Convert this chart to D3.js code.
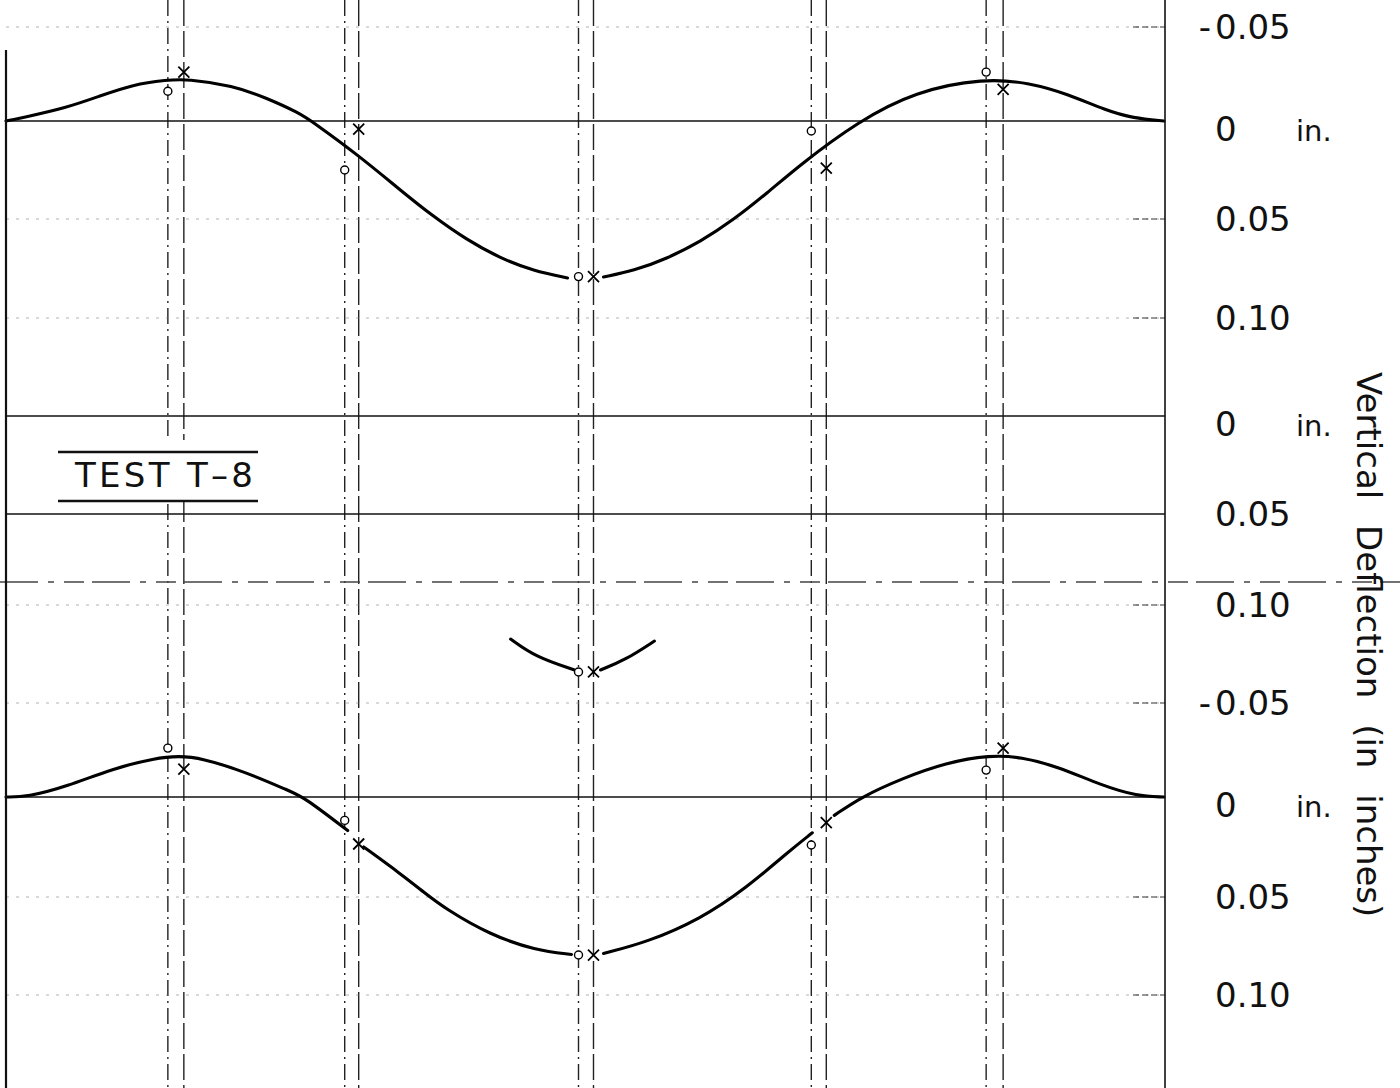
<!DOCTYPE html>
<html>
<head>
<meta charset="utf-8">
<script src="https://cdn.jsdelivr.net/npm/d3@7"></script>
<style>
  body { margin: 0; background: #fff; }
  svg { display: block; }
  text { font-family: "DejaVu Sans", sans-serif; fill: #111; }
</style>
</head>
<body>
<svg id="chart" width="1400" height="1088"></svg>
<script>
// -------------------------------------------------------------
// gauge stations along the span (two readings per station)
const gaugesO = [16.2, 33.9, 57.3, 80.6, 98.1];
const gaugesX = [17.8, 35.3, 58.8, 82.1, 99.8];

// right hand tick labels (in.)
const ticksTop = [-0.05, 0, 0.05, 0.10];
const ticksMid = [0, 0.05, 0.10];
const ticksBot = [-0.05, 0, 0.05, 0.10];

// measured deflections (in., + = downward), one per station
const topO = [-0.0158, 0.0250, 0.0791, 0.0051, -0.0260];
const topX = [-0.0260, 0.0041, 0.0791, 0.0240, -0.0168];
const midO = [null, null, 0.1368, null, null];
const midX = [null, null, 0.1368, null, null];
const botO = [-0.0260, 0.0117, 0.0796, 0.0240, -0.0143];
const botX = [-0.0148, 0.0235, 0.0796, 0.0128, -0.0260];

// faired curves [station, deflection]; null = pen lifted
const topCurve = [
  [0, 0], [1.4, -0.0015], [6.1, -0.0071], [9.4, -0.0133], [12.7, -0.0194],
  [16.1, -0.0218], [18.1, -0.0224], [22.7, -0.0188], [26.1, -0.0122],
  [29.4, -0.0041], [30.7, 0.0005], [35.4, 0.0180], [39.4, 0.0350],
  [42.7, 0.0485], [46.1, 0.0605], [49.5, 0.0699], [52.8, 0.0762],
  [56.2, 0.0798], [58, null], [59.8, 0.0793], [62.8, 0.0762], [66.2, 0.0699],
  [69.5, 0.0615], [72.8, 0.0505], [76.2, 0.0367], [79.5, 0.0222],
  [85.2, 0.0005], [91.0, -0.0158], [97.9, -0.0228], [102.5, -0.0203],
  [106.3, -0.0143], [110.1, -0.0056], [112.8, -0.0015], [115.9, 0]
];
const midCurve = [
  [50.5, 0.1187], [53.0, 0.1286], [56.9, 0.1357], [58, null],
  [59.5, 0.1357], [62.0, 0.1302], [64.9, 0.1198]
];
const botCurve = [
  [0, 0], [2.1, 0], [6.1, -0.0056], [10.6, -0.0150], [15.0, -0.0208],
  [17.3, -0.0218], [19.5, -0.0208], [24.0, -0.0133], [28.4, -0.0031],
  [29.8, 0], [34.2, 0.0168], [35, null], [35.8, 0.0250], [39.6, 0.0388],
  [41.8, 0.0475], [44.0, 0.0561], [48.5, 0.0694], [53.0, 0.0772],
  [56.6, 0.0793], [58, null], [59.8, 0.0788], [64.2, 0.0730], [69.5, 0.0612],
  [74.0, 0.0459], [78.4, 0.0270], [80.7, 0.0179], [81.8, null],
  [82.9, 0.0092], [85.6, 0], [89.6, -0.0097], [94.1, -0.0183],
  [98.5, -0.0223], [101.6, -0.0213], [105.2, -0.0163], [109.7, -0.0061],
  [113.2, -0.0005], [115.9, 0]
];

// -------------------------------------------------------------
const width = 1400;
const height = 1088;
const left = 6, right = 1165;

const svg = d3.select('#chart');
const x = d3.scaleLinear().domain([0, 116]).range([left, right]);

const panels = [
  { ticks: ticksTop, range: [27, 121, 219, 318], solid: [0],       curve: topCurve, o: topO, x: topX },
  { ticks: ticksMid, range: [416, 514, 605],     solid: [0, 0.05], curve: midCurve, o: midO, x: midX },
  { ticks: ticksBot, range: [703, 797, 897, 995], solid: [0],      curve: botCurve, o: botO, x: botX }
];

drawStations();
drawSeparator();
panels.forEach(drawPanel);
drawFrame();
drawTitle();

// -------------------------------------------------------------
function drawStations() {
  const g = svg.append('g');
  g.selectAll('.gO').data(gaugesO).enter().append('line')
    .attr('x1', d => x(d)).attr('x2', d => x(d))
    .attr('y1', 0).attr('y2', height)
    .style('stroke', '#222').style('stroke-width', 1.4)
    .style('stroke-dasharray', '16 5 2 5');
  g.selectAll('.gX').data(gaugesX).enter().append('line')
    .attr('x1', d => x(d)).attr('x2', d => x(d))
    .attr('y1', 0).attr('y2', height)
    .style('stroke', '#222').style('stroke-width', 1.4)
    .style('stroke-dasharray', '26 5');
}

// -------------------------------------------------------------
function drawSeparator() {
  svg.append('line')
    .attr('x1', 0).attr('x2', width).attr('y1', 582).attr('y2', 582)
    .style('stroke', '#444').style('stroke-width', 1.5)
    .style('stroke-dasharray', '38 10 6 10 20 8');
}

// -------------------------------------------------------------
function drawPanel(p) {
  const y = d3.scaleLinear().domain(p.ticks).range(p.range);
  const g = svg.append('g');

  // faint construction lines at the other tick levels
  const grid = p.ticks.filter(t => !p.solid.includes(t));
  g.selectAll('.grid').data(grid).enter()
    .append('line')
    .attr('x1', left).attr('x2', right)
    .attr('y1', d => y(d)).attr('y2', d => y(d))
    .style('stroke', '#777').style('stroke-width', 1)
    .style('opacity', 0.55)
    .style('stroke-dasharray', '3 7');
  // short pencil ticks at the right edge
  g.selectAll('.tick').data(grid).enter()
    .append('line')
    .attr('x1', right - 32).attr('x2', right)
    .attr('y1', d => y(d)).attr('y2', d => y(d))
    .style('stroke', '#333').style('stroke-width', 1.2)
    .style('stroke-dasharray', '6 3');

  g.selectAll('.base').data(p.solid).enter().append('line')
    .attr('x1', left).attr('x2', right)
    .attr('y1', d => y(d)).attr('y2', d => y(d))
    .style('stroke', '#111').style('stroke-width', 1.7);

  const line = d3.line()
    .defined(d => d[1] != null)
    .x(d => x(d[0])).y(d => y(d[1]))
    .curve(d3.curveBasis);

  g.append('path').datum(p.curve)
    .attr('d', line)
    .style('fill', 'none').style('stroke', '#000')
    .style('stroke-width', 3.1).style('stroke-linecap', 'round');

  // circle readings
  const os = gaugesO.map((s, i) => [s, p.o[i]]).filter(d => d[1] != null);
  g.selectAll('.ro').data(os).enter().append('circle')
    .attr('cx', d => x(d[0])).attr('cy', d => y(d[1]))
    .attr('r', 4)
    .style('fill', '#fff').style('stroke', '#000').style('stroke-width', 1.4);

  // cross readings
  const xs = gaugesX.map((s, i) => [s, p.x[i]]).filter(d => d[1] != null);
  const cross = g.selectAll('.rx').data(xs).enter().append('g')
    .attr('transform', d => `translate(${x(d[0])},${y(d[1])})`);
  cross.append('path')
    .attr('d', 'M-5.5,-5.5L5.5,5.5M-5.5,5.5L5.5,-5.5')
    .style('stroke', '#000').style('stroke-width', 1.8).style('fill', 'none');

  // tick labels on the right
  const lab = g.selectAll('.lab').data(p.ticks).enter().append('g')
    .attr('transform', d => `translate(1215,${y(d) + (d === 0 ? 20 : 12)})`);
  lab.append('text')
    .style('font-size', '34px')
    .text(d => d === 0 ? '0' : d3.format('.2f')(Math.abs(d)));
  lab.filter(d => d < 0).append('text')
    .attr('x', -4).attr('text-anchor', 'end')
    .style('font-size', '34px')
    .text('-');
  lab.filter(d => d === 0).append('text')
    .attr('x', 81)
    .style('font-size', '29px')
    .text('in.');
}

// -------------------------------------------------------------
function drawFrame() {
  svg.append('line')
    .attr('x1', left).attr('x2', left).attr('y1', 50).attr('y2', height)
    .style('stroke', '#111').style('stroke-width', 2.2);
  svg.append('line')
    .attr('x1', right).attr('x2', right).attr('y1', 0).attr('y2', height)
    .style('stroke', '#111').style('stroke-width', 1.6);
}

// -------------------------------------------------------------
function drawTitle() {
  svg.append('text')
    .attr('transform', 'translate(1357,372) rotate(90)')
    .style('font-size', '34px')
    .style('word-spacing', '15px')
    .text('Vertical Deflection (in inches)');

  const t = svg.append('g');
  t.append('rect').attr('x', 58).attr('y', 440).attr('width', 200).attr('height', 60)
    .style('fill', '#fff');
  t.append('text')
    .attr('x', 75).attr('y', 487)
    .attr('textLength', 178).attr('lengthAdjust', 'spacing')
    .style('font-size', '34px')
    .text('TEST T–8');
  t.selectAll('line').data([452, 501]).enter().append('line')
    .attr('x1', 58).attr('x2', 258)
    .attr('y1', d => d).attr('y2', d => d)
    .style('stroke', '#111').style('stroke-width', 2.4);
}
</script>
</body>
</html>
